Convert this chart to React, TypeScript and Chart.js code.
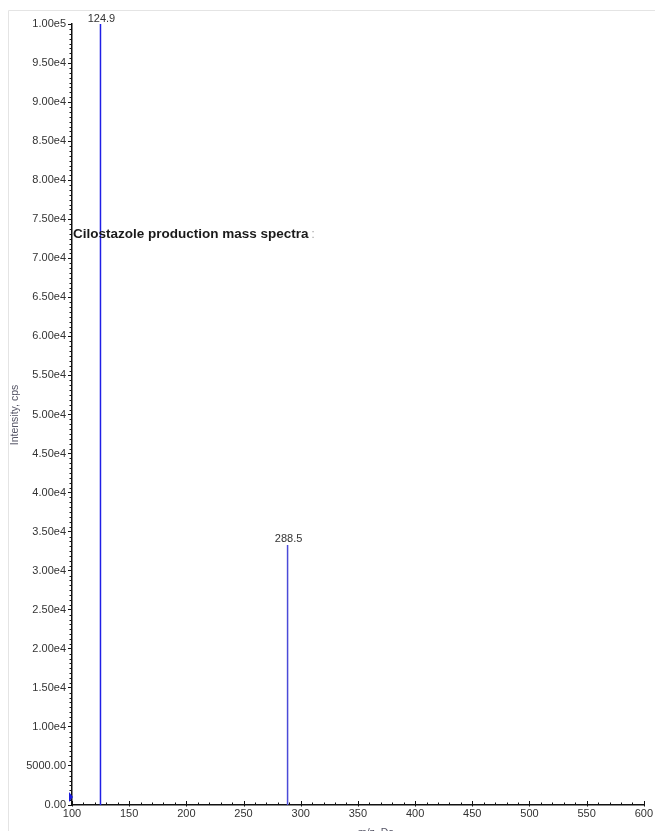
import React, { useEffect, useRef } from "react";
import { Chart, registerables } from "chart.js";

Chart.register(...registerables);

// Product-ion peaks (m/z and intensity in cps)
const peakMz: number[] = [124.9, 288.5];
const peakIntensity: number[] = [100000, 33300];
const peakLabels: string[] = ["124.9", "288.5"];

// Axis ranges and tick spacing
const xRange: number[] = [100, 600];
const xStep = 50;
const xMinorStep = 10;
const yRange: number[] = [0, 100000];
const yStep = 5000;
const yMinorStep = 625;

const titleText = "Cilostazole production mass spectra";
const xTitle = "m/z, Da";
const yTitle = "Intensity, cps";

const FONT = "'Liberation Sans', Arial, sans-serif";

function formatIntensity(v: number): string {
  if (v >= 10000) {
    const exp = Math.floor(Math.log10(v) + 1e-9);
    const mant = v / Math.pow(10, exp);
    return mant.toFixed(2) + "e" + exp;
  }
  return v.toFixed(2);
}

const decorations = {
  id: "spectrumDecor",
  afterDraw(chart: any) {
    const { ctx, chartArea, scales } = chart;
    const xs = scales.x;
    const ys = scales.y;
    ctx.save();

    // faint frame
    ctx.strokeStyle = "#e4e4e4";
    ctx.lineWidth = 1;
    ctx.beginPath();
    ctx.moveTo(8.5, 831);
    ctx.lineTo(8.5, 10.5);
    ctx.lineTo(655, 10.5);
    ctx.stroke();

    // minor ticks on the y axis (pointing out)
    ctx.strokeStyle = "#111";
    ctx.lineWidth = 1;
    ctx.beginPath();
    for (let v = yRange[0]; v <= yRange[1] + 1e-6; v += yMinorStep) {
      const y = Math.round(ys.getPixelForValue(v)) + 0.5;
      const major = Math.abs(v / yStep - Math.round(v / yStep)) < 1e-6;
      if (major) continue;
      ctx.moveTo(chartArea.left - 2.5, y);
      ctx.lineTo(chartArea.left, y);
    }
    ctx.stroke();

    // x axis ticks (pointing into the plot)
    ctx.beginPath();
    for (let v = xRange[0]; v <= xRange[1] + 1e-6; v += xMinorStep) {
      const x = Math.round(xs.getPixelForValue(v)) + 0.5;
      const major = Math.abs(v / xStep - Math.round(v / xStep)) < 1e-6;
      ctx.moveTo(x, chartArea.bottom + (major ? 1.5 : 0));
      ctx.lineTo(x, chartArea.bottom - (major ? 4 : 2.5));
    }
    ctx.stroke();

    // peak labels
    ctx.fillStyle = "#333";
    ctx.font = `11px ${FONT}`;
    ctx.textAlign = "center";
    ctx.textBaseline = "bottom";
    peakMz.forEach((mz, i) => {
      const x = xs.getPixelForValue(mz);
      const y = ys.getPixelForValue(peakIntensity[i]);
      ctx.fillText(peakLabels[i], x + 1, y - 0);
    });

    // title inside the plot
    ctx.textAlign = "left";
    ctx.textBaseline = "alphabetic";
    ctx.font = `bold 13.5px ${FONT}`;
    ctx.fillStyle = "#1a1a1a";
    const tx = chartArea.left + 1;
    const ty = 238;
    ctx.fillText(titleText, tx, ty);
    const w = ctx.measureText(titleText + " ").width;
    ctx.font = `13px ${FONT}`;
    ctx.fillStyle = "#aaa";
    ctx.fillText(":", tx + w - 1, ty);

    // axis titles
    ctx.fillStyle = "#556";
    ctx.font = `10.5px ${FONT}`;
    ctx.textAlign = "center";
    ctx.textBaseline = "alphabetic";
    ctx.fillText(xTitle, 376, 836);
    ctx.save();
    ctx.translate(18, 415);
    ctx.rotate(-Math.PI / 2);
    ctx.fillText(yTitle, 0, 0);
    ctx.restore();

    // origin marker
    const ox = chartArea.left;
    const oy = chartArea.bottom - 8;
    ctx.fillStyle = "#1a1adc";
    ctx.beginPath();
    ctx.moveTo(ox - 3, oy - 5);
    ctx.lineTo(ox + 1, oy);
    ctx.lineTo(ox - 3, oy + 5);
    ctx.closePath();
    ctx.fill();

    ctx.restore();
  },
};

export default function App() {
  const canvasRef = useRef<HTMLCanvasElement | null>(null);

  useEffect(() => {
    if (!canvasRef.current) return;
    const datasets = peakMz.map((mz, i) => ({
      label: peakLabels[i],
      data: [
        { x: mz, y: 0 },
        { x: mz, y: peakIntensity[i] },
      ],
      borderColor: i === 0 ? "#1f1fe6" : "#4a4ad8",
      borderWidth: 1.5,
      pointRadius: 0,
      fill: false,
    }));

    const chart = new Chart(canvasRef.current, {
      type: "line",
      data: { datasets },
      plugins: [decorations],
      options: {
        animation: false,
        responsive: false,
        maintainAspectRatio: false,
        devicePixelRatio: 1,
        layout: { padding: { left: 0, top: 24, right: 9, bottom: 0 } },
        plugins: {
          legend: { display: false },
          tooltip: { enabled: false },
          title: { display: false },
        },
        scales: {
          x: {
            type: "linear",
            min: xRange[0],
            max: xRange[1],
            grid: { display: true, drawOnChartArea: false, drawTicks: false },
            border: { display: true, color: "#111", width: 1.5 },
            ticks: {
              stepSize: xStep,
              padding: 2,
              color: "#333",
              font: { family: FONT, size: 11 },
              maxRotation: 0,
              autoSkip: false,
            },
            afterFit: (s: any) => {
              s.height = 26;
            },
          },
          y: {
            type: "linear",
            min: yRange[0],
            max: yRange[1],
            grid: {
              display: true,
              drawOnChartArea: false,
              drawTicks: true,
              tickLength: 4,
              tickColor: "#111",
            },
            border: { display: true, color: "#111", width: 1.5 },
            ticks: {
              stepSize: yStep,
              padding: 2,
              color: "#333",
              font: { family: FONT, size: 11 },
              autoSkip: false,
              callback: (v: any) => formatIntensity(Number(v)),
            },
            afterFit: (s: any) => {
              s.width = 72;
            },
          },
        },
      },
    });
    return () => chart.destroy();
  }, []);

  return (
    <div style={{ position: "absolute", left: 0, top: 0, width: 655, height: 831, background: "#fff" }}>
      <canvas ref={canvasRef} width={655} height={831} style={{ width: 655, height: 831 }} />
    </div>
  );
}
